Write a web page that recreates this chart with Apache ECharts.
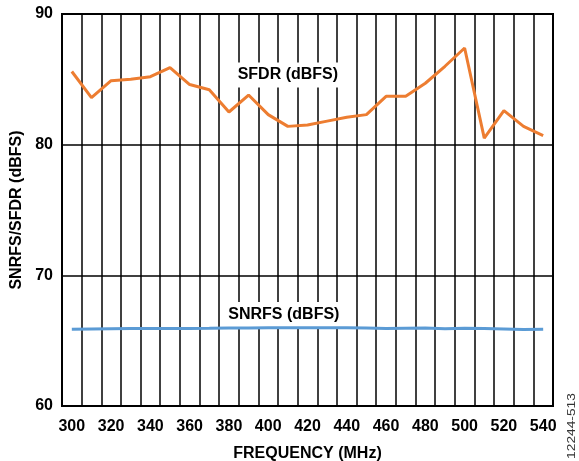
<!DOCTYPE html>
<html>
<head>
<meta charset="utf-8">
<script src="https://cdn.jsdelivr.net/npm/echarts@6/dist/echarts.min.js"></script>
<style>
  html, body { margin: 0; padding: 0; background: #fff; }
  #chart { width: 579px; height: 461px; }
</style>
</head>
<body>
<div id="chart"></div>
<script>
// frequency (MHz), one band per 10 MHz
const freqs = ['300', '310', '320', '330', '340', '350', '360', '370', '380', '390',
  '400', '410', '420', '430', '440', '450', '460', '470', '480', '490',
  '500', '510', '520', '530', '540'];

const sfdr = [85.6, 83.6, 84.9, 85.0, 85.2, 85.9, 84.6, 84.2, 82.5, 83.8,
  82.3, 81.4, 81.5, 81.8, 82.1, 82.3, 83.7, 83.7, 84.7, 86.0,
  87.4, 80.5, 82.6, 81.4, 80.7];

const snrfs = [65.88, 65.9, 65.92, 65.93, 65.93, 65.93, 65.94, 65.95, 65.97, 65.97,
  65.98, 65.98, 65.98, 65.98, 65.98, 65.97, 65.93, 65.95, 65.96, 65.92,
  65.95, 65.93, 65.9, 65.85, 65.88];

const yTicks = [60, 70, 80, 90];

const font = 'Liberation Sans, Arial, sans-serif';

let myChart = echarts.init(document.getElementById('chart'));
let option = {
  animation: false,
  grid: {
    left: 62, right: 26, top: 14, bottom: 55,
    outerBoundsMode: 'none',
    containLabel: false,
    show: true, borderColor: '#000', borderWidth: 2, backgroundColor: 'transparent'
  },
  xAxis: {
    type: 'category',
    data: freqs,
    boundaryGap: true,
    name: 'FREQUENCY (MHz)',
    nameLocation: 'middle',
    nameGap: 40,
    nameTextStyle: { fontFamily: font, fontWeight: 'bold', fontSize: 16, color: '#000' },
    axisLine: { lineStyle: { color: '#000', width: 2 } },
    axisTick: { show: false },
    axisLabel: { interval: 1, margin: 13, fontFamily: font, fontWeight: 'bold', fontSize: 16, color: '#000' },
    splitLine: { show: true, interval: 0, lineStyle: { color: '#000', width: 1.5 } }
  },
  yAxis: {
    type: 'value',
    min: yTicks[0],
    max: yTicks[yTicks.length - 1],
    interval: 10,
    name: 'SNRFS/SFDR (dBFS)',
    nameLocation: 'middle',
    nameGap: 37,
    nameTextStyle: { fontFamily: font, fontWeight: 'bold', fontSize: 16, color: '#000' },
    axisLine: { show: true, lineStyle: { color: '#000', width: 2 } },
    axisTick: { show: false },
    axisLabel: { margin: 9, fontFamily: font, fontWeight: 'bold', fontSize: 16, color: '#000' },
    splitLine: { show: true, lineStyle: { color: '#000', width: 1.5 } }
  },
  series: [
    {
      name: 'SFDR (dBFS)',
      type: 'line',
      data: sfdr,
      symbol: 'none',
      z: 5,
      lineStyle: { color: '#ED7D31', width: 3 },
      markPoint: {
        symbol: 'rect',
        symbolSize: 0,
        data: [{ coord: ['410', 85.33] }],
        label: {
          show: true, position: 'inside', formatter: 'SFDR (dBFS)',
          fontFamily: font, fontWeight: 'bold', fontSize: 16, color: '#000',
          backgroundColor: '#fff', padding: [5, 3, 4, 3]
        }
      }
    },
    {
      name: 'SNRFS (dBFS)',
      type: 'line',
      data: snrfs,
      symbol: 'none',
      z: 5,
      lineStyle: { color: '#5B9BD5', width: 3 },
      markPoint: {
        symbol: 'rect',
        symbolSize: 0,
        data: [{ coord: ['410', 67.0] }],
        label: {
          show: true, position: 'inside', formatter: 'SNRFS (dBFS)', offset: [-4, 0],
          fontFamily: font, fontWeight: 'bold', fontSize: 16, color: '#000',
          backgroundColor: '#fff', padding: [5, 3, 4, 3]
        }
      }
    }
  ],
  graphic: [
    {
      type: 'text',
      x: 572,
      y: 426,
      rotation: Math.PI / 2,
      scaleX: 1.25,
      style: {
        text: '12244-513', fontFamily: font, fontSize: 11, fill: '#333',
        align: 'center', verticalAlign: 'middle'
      }
    }
  ]
};
myChart.setOption(option, true);
</script>
</body>
</html>
